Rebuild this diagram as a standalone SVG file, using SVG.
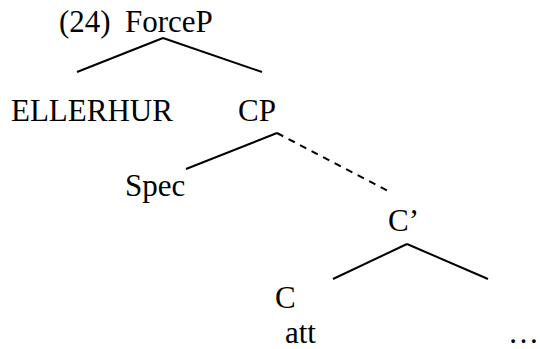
<svg xmlns="http://www.w3.org/2000/svg" width="540" height="349" viewBox="0 0 540 349">
<style>
.e{stroke:#000;stroke-width:2;fill:none}
.d{stroke-dasharray:7,6}
</style>
<rect width="540" height="349" fill="#fff"/>
<g id="ForceP"><text x="59" y="32" font-family="Liberation Serif" font-size="31">(24)</text><text x="125" y="32" font-family="Liberation Serif" font-size="31">ForceP</text></g>
<g id="ELLERHUR"><text x="11" y="121" font-family="Liberation Serif" font-size="31">ELLERHUR</text></g>
<g id="CP"><text x="238" y="121" font-family="Liberation Serif" font-size="31">CP</text></g>
<g id="Spec"><text x="125" y="196" font-family="Liberation Serif" font-size="31">Spec</text></g>
<g id="Cbar"><text x="388" y="231" font-family="Liberation Serif" font-size="31">C’</text></g>
<g id="C"><text x="275" y="308" font-family="Liberation Serif" font-size="31">C</text></g>
<g id="att"><text x="285" y="343" font-family="Liberation Serif" font-size="31">att</text></g>
<g id="dots"><text x="508" y="343" font-family="Liberation Serif" font-size="31">…</text></g>
<g id="connectors">
<line class="e" x1="163" y1="38" x2="77" y2="72"/>
<line class="e" x1="163" y1="38" x2="262" y2="72"/>
<line class="e" x1="277" y1="133" x2="186" y2="169"/>
<line class="e d" x1="277" y1="133" x2="390" y2="192"/>
<line class="e" x1="407" y1="244" x2="333" y2="279"/>
<line class="e" x1="407" y1="244" x2="488" y2="279"/>
</g>
</svg>
